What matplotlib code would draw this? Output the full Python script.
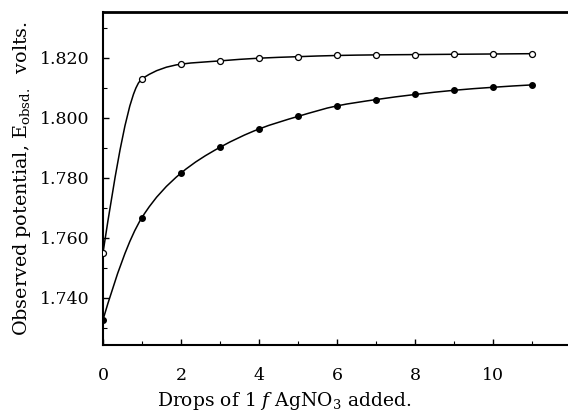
import numpy as np
import matplotlib
matplotlib.use("Agg")
import matplotlib.pyplot as plt
from matplotlib.path import Path
from matplotlib.patches import PathPatch
from matplotlib.ticker import MultipleLocator

# drops of AgNO3 added
drops = [0, 1, 2, 3, 4, 5, 6, 7, 8, 9, 10, 11]
# open circles (upper curve)
e_open = [1.7550, 1.8130, 1.8179, 1.8190, 1.8199, 1.8204,
          1.8208, 1.8210, 1.8211, 1.8212, 1.8213, 1.8214]
# filled circles (lower curve)
e_filled = [1.7327, 1.7668, 1.7816, 1.7902, 1.7963, 1.8005,
            1.8040, 1.8061, 1.8078, 1.8092, 1.8102, 1.8110]

plt.rcParams['font.family'] = ['DejaVu Serif']
plt.rcParams['mathtext.fontset'] = 'dejavuserif'


def pchip_slopes(x, y):
    x = np.asarray(x, float)
    y = np.asarray(y, float)
    h = np.diff(x)
    d = np.diff(y) / h
    m = np.zeros_like(y)
    for k in range(1, len(x) - 1):
        if d[k - 1] * d[k] > 0:
            w1 = 2 * h[k] + h[k - 1]
            w2 = h[k] + 2 * h[k - 1]
            m[k] = (w1 + w2) / (w1 / d[k - 1] + w2 / d[k])
    m[0] = ((2 * h[0] + h[1]) * d[0] - h[0] * d[1]) / (h[0] + h[1])
    m[-1] = ((2 * h[-1] + h[-2]) * d[-1] - h[-1] * d[-2]) / (h[-1] + h[-2])
    return m


def smooth_path(x, y):
    # cubic Hermite curve through the points, drawn as Bezier segments
    m = pchip_slopes(x, y)
    verts = [(x[0], y[0])]
    codes = [Path.MOVETO]
    for k in range(len(x) - 1):
        h = x[k + 1] - x[k]
        verts += [(x[k] + h / 3, y[k] + m[k] * h / 3),
                  (x[k + 1] - h / 3, y[k + 1] - m[k + 1] * h / 3),
                  (x[k + 1], y[k + 1])]
        codes += [Path.CURVE4] * 3
    return Path(verts, codes)


fig = plt.figure(figsize=(5.68, 4.13), dpi=100)
ax = fig.add_axes([0.1813, 0.1646, 0.8187, 0.8064])

for ys in (e_open, e_filled):
    ax.add_patch(PathPatch(smooth_path(drops, ys), fc='none', ec='black', lw=1.1))

ax.plot(drops, e_open, 'o', ms=4.3, mfc='white', mec='black', mew=0.9, zorder=3)
ax.plot(drops, e_filled, 'o', ms=4.0, mfc='black', mec='black', zorder=3)

ax.set_xlim(0, 11.92)
ax.set_ylim(1.7243, 1.8353)
ax.xaxis.set_major_locator(MultipleLocator(2))
ax.xaxis.set_minor_locator(MultipleLocator(1))
ax.yaxis.set_major_locator(MultipleLocator(0.02))
ax.yaxis.set_minor_locator(MultipleLocator(0.01))
ax.yaxis.set_major_formatter(plt.FormatStrFormatter('%.3f'))

ax.tick_params(axis='both', which='both', direction='in', labelsize=12.5)
ax.tick_params(axis='both', which='major', length=4, width=1)
ax.tick_params(axis='both', which='minor', length=3, width=0.8)
ax.tick_params(axis='x', which='major', pad=16)
ax.tick_params(axis='y', which='major', pad=10)

ax.spines['right'].set_visible(False)
ax.spines['top'].set_linewidth(2)
ax.spines['left'].set_linewidth(1.5)
ax.spines['bottom'].set_linewidth(1.5)

ax.set_xlabel(r'Drops of 1 $f$ AgNO$_3$ added.', fontsize=13.5)
ax.xaxis.set_label_coords(0.389, -0.135)
ax.set_ylabel(r'Observed potential, $\mathregular{E_{obsd.}}$  volts.', fontsize=13.8, labelpad=5)

fig.savefig('out.png', dpi=100)
